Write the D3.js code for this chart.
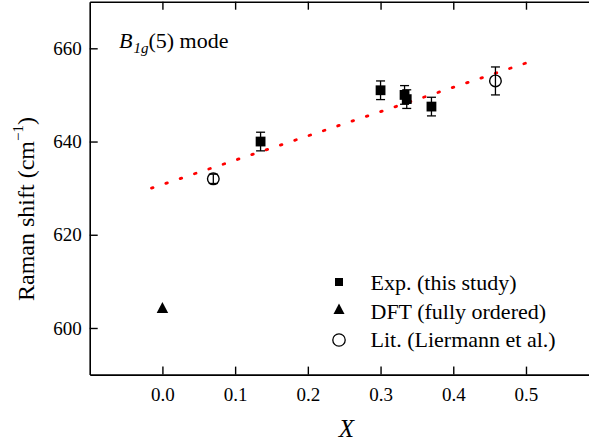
<!DOCTYPE html>
<html>
<head>
    <title>Raman shift B1g(5)</title>
    <script src="https://cdn.jsdelivr.net/npm/d3@7"></script>
    <style>
        body { margin: 0; background: #fff; }
        svg { display: block; }
    </style>
</head>
<body>
<script>
    // measured data
    var expX = [0.135, 0.300, 0.333, 0.336, 0.370],
        expY = [640.0, 651.0, 650.0, 649.1, 647.5],
        expErr = [2, 2, 2, 2, 2];

    var dftX = [0.0],
        dftY = [604.0];

    var litX = [0.070, 0.458],
        litY = [632.0, 653.0],
        litErr = [1, 3];

    // end points of the red dotted guide line
    var fitX = [-0.015, 0.505],
        fitY = [630.0, 657.1];

    var xTicks = [0.0, 0.1, 0.2, 0.3, 0.4, 0.5],
        yTicks = [600, 620, 640, 660];

    var legendLabels = ["Exp. (this study)", "DFT (fully ordered)", "Lit. (Liermann et al.)"];

    var W = 589, H = 448,
        serif = "'Liberation Serif', 'Times New Roman', serif";

    var x = d3.scaleLinear().domain([-0.1, 0.6]).range([89.7, 598.7]),
        y = d3.scaleLinear().domain([590, 670]).range([374.6, 1.7]);

    var svg = d3.select("body").append("svg")
        .attr("width", W)
        .attr("height", H)
        .style("font-family", serif);

    // axes (ticks inward)
    var gx = svg.append("g")
        .attr("transform", "translate(0," + y(590) + ")")
        .call(d3.axisBottom(x).tickValues(xTicks).tickFormat(d3.format(".1f"))
            .tickSizeInner(-8).tickSizeOuter(0).tickPadding(13));

    var gt = svg.append("g")
        .attr("transform", "translate(0," + y(670) + ")")
        .call(d3.axisTop(x).tickValues(xTicks).tickFormat("")
            .tickSizeInner(-8).tickSizeOuter(0));

    var gy = svg.append("g")
        .attr("transform", "translate(" + x(-0.1) + ",0)")
        .call(d3.axisLeft(y).tickValues(yTicks).tickFormat(d3.format("d"))
            .tickSizeInner(-8).tickSizeOuter(0).tickPadding(8));

    [gx, gt, gy].forEach(function (g) {
        g.attr("font-family", serif).attr("font-size", 19);
        g.selectAll("text").style("font-family", serif).style("font-size", "19px").attr("fill", "#000");
        g.selectAll("line").attr("stroke", "#000").attr("stroke-width", 1.4);
        g.select(".domain").attr("stroke", "#000").attr("stroke-width", 1.6);
    });

    // dotted red guide
    svg.append("path")
        .datum(d3.zip(fitX, fitY))
        .attr("d", d3.line().x(function (d) { return x(d[0]); }).y(function (d) { return y(d[1]); }))
        .attr("fill", "none")
        .attr("stroke", "#ff0000")
        .attr("stroke-width", 2.8)
        .attr("stroke-linecap", "round")
        .attr("stroke-dasharray", "1.6 13.5");

    function errorBars(xs, ys, es) {
        var g = svg.append("g").attr("stroke", "#000").attr("stroke-width", 1.3).attr("fill", "none");
        xs.forEach(function (xv, i) {
            var cx = x(xv), y1 = y(ys[i] + es[i]), y2 = y(ys[i] - es[i]);
            g.append("line").attr("x1", cx).attr("x2", cx).attr("y1", y1).attr("y2", y2);
            g.append("line").attr("x1", cx - 4.5).attr("x2", cx + 4.5).attr("y1", y1).attr("y2", y1);
            g.append("line").attr("x1", cx - 4.5).attr("x2", cx + 4.5).attr("y1", y2).attr("y2", y2);
        });
    }

    errorBars(expX, expY, expErr);
    errorBars(litX, litY, litErr);

    function square(s) {
        return "M" + (-s / 2) + "," + (-s / 2) + "h" + s + "v" + s + "h" + (-s) + "Z";
    }
    function triangle(w, h) {
        return "M0," + (-2 * h / 3) + "L" + (w / 2) + "," + (h / 3) + "L" + (-w / 2) + "," + (h / 3) + "Z";
    }

    // experimental squares
    svg.append("g").selectAll("path")
        .data(d3.zip(expX, expY))
        .enter().append("path")
        .attr("transform", function (d) { return "translate(" + x(d[0]) + "," + y(d[1]) + ")"; })
        .attr("d", square(9.8))
        .attr("fill", "#000");

    // DFT triangle
    svg.append("g").selectAll("path")
        .data(d3.zip(dftX, dftY))
        .enter().append("path")
        .attr("transform", function (d) { return "translate(" + x(d[0]) + "," + y(d[1]) + ")"; })
        .attr("d", triangle(11.5, 11))
        .attr("fill", "#000");

    // literature circles
    svg.append("g").selectAll("circle")
        .data(d3.zip(litX, litY))
        .enter().append("circle")
        .attr("cx", function (d) { return x(d[0]); })
        .attr("cy", function (d) { return y(d[1]); })
        .attr("r", 5.8)
        .attr("fill", "none")
        .attr("stroke", "#000")
        .attr("stroke-width", 1.4);

    // legend
    var leg = svg.append("g").attr("transform", "translate(339,282)");
    leg.append("path").attr("d", square(8)).attr("fill", "#000");
    leg.append("path").attr("transform", "translate(0,28.5)").attr("d", triangle(11, 10.5)).attr("fill", "#000");
    leg.append("circle").attr("cy", 58).attr("r", 6.2).attr("fill", "none").attr("stroke", "#000").attr("stroke-width", 1.3);
    leg.selectAll("text")
        .data(legendLabels)
        .enter().append("text")
        .attr("x", 31.5)
        .attr("y", function (d, i) { return 8 + i * 28.5; })
        .style("font-size", "22px")
        .text(function (d) { return d; });

    // mode annotation
    var ann = svg.append("text").attr("x", 119).attr("y", 48.3).style("font-size", "22px");
    ann.append("tspan").attr("font-style", "italic").text("B");
    ann.append("tspan").attr("font-style", "italic").style("font-size", "15px").attr("dy", 5).attr("dx", 1).text("1g");
    ann.append("tspan").attr("dy", -5).text("(5) mode");

    // axis titles
    var yt = svg.append("text")
        .attr("transform", "translate(34," + 209 + ") rotate(-90)")
        .attr("text-anchor", "middle")
        .style("font-size", "24px");
    yt.append("tspan").text("Raman shift (cm");
    yt.append("tspan").style("font-size", "15px").attr("dy", -11).text("\u22121");
    yt.append("tspan").attr("dy", 11).text(")");

    svg.append("text")
        .attr("x", 346.5).attr("y", 436.5)
        .attr("text-anchor", "middle")
        .style("font-size", "25px")
        .attr("font-style", "italic")
        .text("X");
</script>
</body>
</html>
